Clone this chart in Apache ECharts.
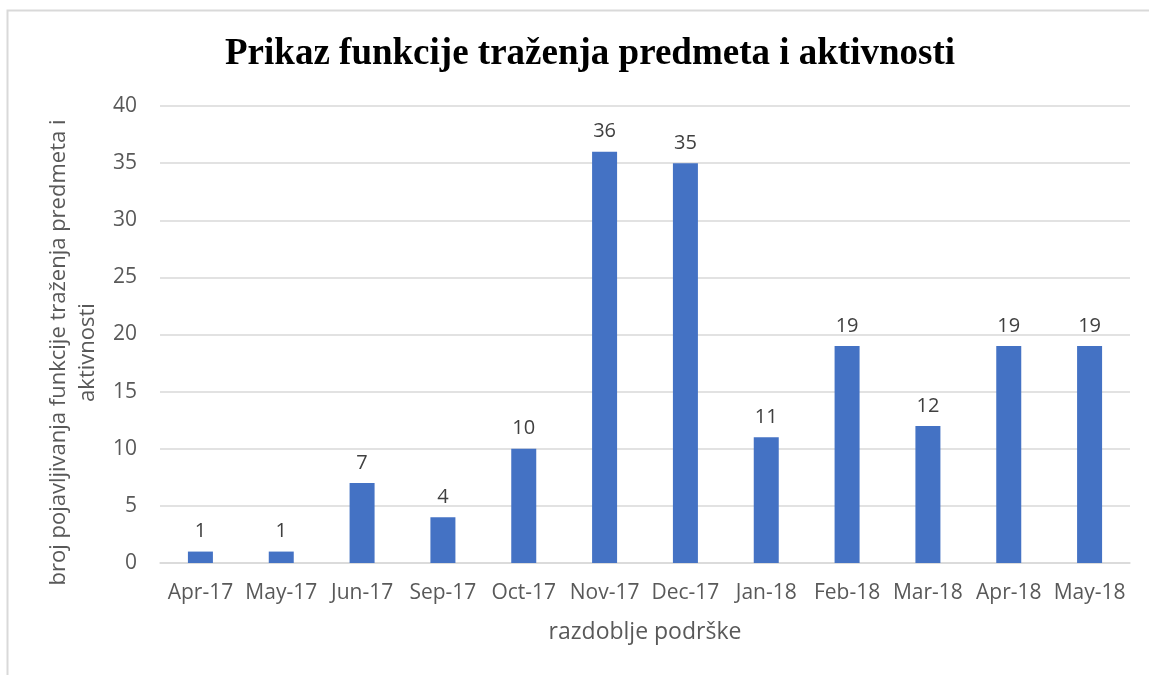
<!DOCTYPE html>
<html>
<head>
<meta charset="utf-8">
<script src="https://cdn.jsdelivr.net/npm/echarts@6/dist/echarts.min.js"></script>
<style>
  html, body { margin: 0; padding: 0; background: #fff; }
  #chart { width: 1149px; height: 675px; }
</style>
</head>
<body>
<div id="chart"></div>
<script>
// podaci s grafikona
const categories = ["Apr-17", "May-17", "Jun-17", "Sep-17", "Oct-17", "Nov-17",
  "Dec-17", "Jan-18", "Feb-18", "Mar-18", "Apr-18", "May-18"];
const values = [1, 1, 7, 4, 10, 36, 35, 11, 19, 12, 19, 19];
const yTicks = { min: 0, max: 40, interval: 5 };

const textFont = "Open Sans";
const gray = "#595959";

const chart = echarts.init(document.getElementById("chart"));

chart.setOption({
  animation: false,
  graphic: [
    {
      type: "rect",
      shape: { x: 7.5, y: 10.5, width: 1200, height: 700 },
      style: { fill: "none", stroke: "#d9d9d9", lineWidth: 2 }
    }
  ],
  title: {
    text: "Prikaz funkcije traženja predmeta i aktivnosti",
    left: 585,
    top: 31,
    textAlign: "center",
    textStyle: {
      fontFamily: "Liberation Serif",
      fontWeight: "bold",
      fontSize: 37,
      color: "#000"
    }
  },
  grid: {
    left: 160,
    right: 19,
    top: 106,
    bottom: 112
  },
  xAxis: {
    type: "category",
    data: categories,
    name: "razdoblje podrške",
    nameLocation: "middle",
    nameGap: 58,
    nameTextStyle: { fontFamily: textFont, fontSize: 23, color: gray },
    axisLine: { lineStyle: { color: "#d9d9d9", width: 1.5 } },
    axisTick: { show: false },
    axisLabel: { fontFamily: textFont, fontSize: 21, color: gray, margin: 20, interval: 0 }
  },
  yAxis: {
    type: "value",
    min: yTicks.min,
    max: yTicks.max,
    interval: yTicks.interval,
    name: "broj pojavljivanja funkcije traženja predmeta i\naktivnosti",
    nameLocation: "middle",
    nameGap: 52,
    nameTextStyle: {
      fontFamily: textFont, fontSize: 22, color: gray, lineHeight: 29,
      padding: [0, 36, 0, 0]
    },
    axisLine: { show: false },
    axisTick: { show: false },
    axisLabel: { fontFamily: textFont, fontSize: 21, color: gray, margin: 23 },
    splitLine: { lineStyle: { color: "#d9d9d9", width: 1.5 } }
  },
  series: [
    {
      type: "bar",
      data: values,
      barWidth: 25,
      itemStyle: { color: "#4472C4" },
      label: {
        show: true,
        position: "top",
        distance: 10,
        fontFamily: textFont,
        fontSize: 20,
        color: "#404040"
      }
    }
  ]
});
</script>
</body>
</html>
